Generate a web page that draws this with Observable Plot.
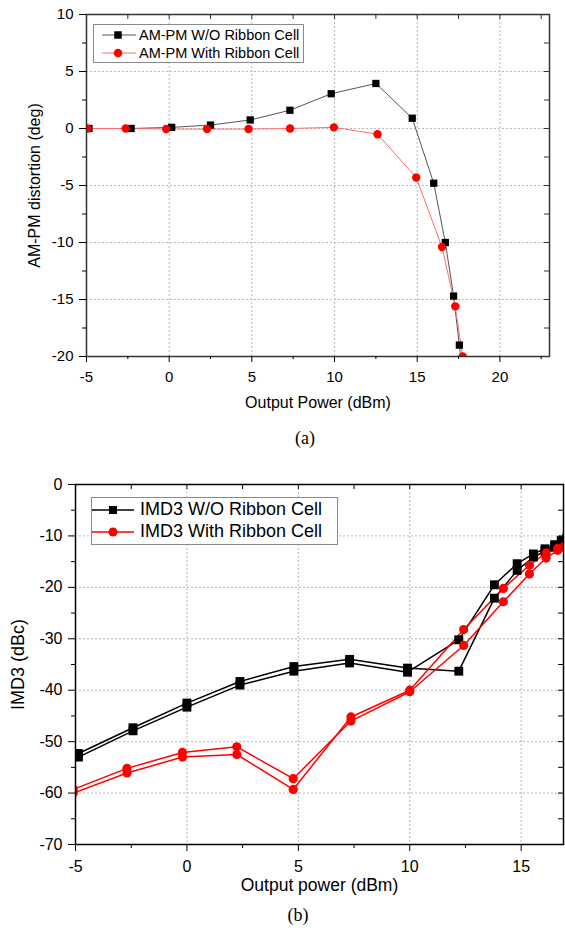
<!DOCTYPE html>
<html>
<head>
<meta charset="utf-8">
<script src="https://cdn.jsdelivr.net/npm/d3@7"></script>
<script src="https://cdn.jsdelivr.net/npm/@observablehq/plot@0.6"></script>
<style>
  body { margin: 0; background: #fff; }
  #wrap { position: relative; width: 565px; height: 934px; background: #fff; font-family: "Liberation Sans", Arial, sans-serif; }
  #wrap svg.plot { position: absolute; left: 0; }
  .legend { position: absolute; background: #fff; border: 1px solid #8a8a8a; box-sizing: border-box; }
  .row { position: absolute; left: 0; display: flex; align-items: center; white-space: nowrap; color: #000; }
  .cap { position: absolute; font-family: "Liberation Serif", "Times New Roman", serif; transform: translate(-50%, -50%); color: #000; }
</style>
</head>
<body>
<div id="wrap"></div>
<script>
// ---------- Chart (a): AM-PM distortion ----------
const amWoX = [-4.85, -2.3, 0.15, 2.5, 4.9, 7.3, 9.8, 12.5, 14.7, 16.0, 16.7, 17.2, 17.55, 17.75];
const amWoY = [0, 0, 0.1, 0.3, 0.75, 1.6, 3.05, 3.95, 0.9, -4.8, -10.0, -14.7, -19.0, -21.5];
const amWithX = [-4.95, -2.63, -0.18, 2.29, 4.8, 7.31, 9.96, 12.6, 14.94, 16.5, 17.3, 17.75];
const amWithY = [0, 0, -0.05, -0.05, -0.05, 0, 0.1, -0.5, -4.3, -10.4, -15.6, -20.0];
const amLabels = ["AM-PM W/O Ribbon Cell", "AM-PM With Ribbon Cell"];
const aXTicks = [-5, 0, 5, 10, 15, 20];
const aXMinor = [-2.5, 2.5, 7.5, 12.5, 17.5, 22.5];
const aYTicks = [-20, -15, -10, -5, 0, 5, 10];
const aYMinor = [-17.5, -12.5, -7.5, -2.5, 2.5, 7.5];

// ---------- Chart (b): IMD3 ----------
const imdWoX = [-4.87, -2.42, 0, 2.38, 4.8, 7.3, 9.9, 12.2, 13.8, 14.82, 15.55, 16.07, 16.5, 16.8, 17.05];
const imdWoY1 = [-52.3, -47.3, -42.5, -38.3, -35.4, -34.0, -35.7, -36.3, -22.1, -16.7, -14.1, -13.0, -12.2, -11.3, -10.7];
const imdWoY2 = [-53.0, -47.9, -43.3, -39.0, -36.3, -34.7, -36.5, -30.2, -19.5, -15.4, -13.5, -12.5, -11.7, -10.9, -10.4];
const imdWithX = [-5.1, -2.69, -0.2, 2.24, 4.77, 7.36, 10.0, 12.42, 14.2, 15.37, 16.12, 16.64, 16.95];
const imdWithY1 = [-59.3, -55.2, -52.1, -51.0, -57.2, -46.0, -40.3, -31.3, -22.8, -17.4, -14.3, -12.8, -12.2];
const imdWithY2 = [-60.0, -56.1, -53.0, -52.5, -59.3, -45.2, -40.0, -28.2, -20.2, -15.7, -13.3, -12.4, -11.9];
const imdLabels = ["IMD3 W/O Ribbon Cell", "IMD3 With Ribbon Cell"];
const bXTicks = [-5, 0, 5, 10, 15];
const bXMinor = [-2.5, 2.5, 7.5, 12.5];
const bYTicks = [-70, -60, -50, -40, -30, -20, -10, 0];
const bYMinor = [-65, -55, -45, -35, -25, -15, -5];

const zip = (xs, ys) => xs.map((x, i) => ({x, y: ys[i]}));
const FONT = "'Liberation Sans', Arial, sans-serif";
const fmt = d => String(d);
const wrap = document.getElementById("wrap");

// ----- Plot (a) -----
{
  const W = 565, H = 420, mt = 14, mb = 64, ml = 86, mr = 16;
  const ph = H - mt - mb, pw = W - ml - mr;
  const xTop = d3.range(-2.5, 23, 2.5);
  const yRight = d3.range(-17.5, 10, 2.5);
  const wo = zip(amWoX, amWoY), wi = zip(amWithX, amWithY);
  const grid = {stroke: "#b8b8b8", strokeWidth: 1, strokeDasharray: "2,2"};
  const svg = Plot.plot({
    width: W, height: H, marginTop: mt, marginBottom: mb, marginLeft: ml, marginRight: mr,
    x: {domain: [-5, 23]}, y: {domain: [-20, 10]},
    style: {fontFamily: FONT, fontSize: "15px", color: "#000", background: "transparent"},
    marks: [
      Plot.ruleX(aXTicks.filter(d => d > -5), grid),
      Plot.ruleY(aYTicks.filter(d => d > -20 && d < 10), grid),
      Plot.line(wo, {x: "x", y: "y", stroke: "#555", strokeWidth: 1, clip: true}),
      Plot.line(wi, {x: "x", y: "y", stroke: "#ff6b6b", strokeWidth: 1, clip: true}),
      Plot.dot(wo, {x: "x", y: "y", symbol: "square", r: 4.1, fill: "#000", clip: true}),
      Plot.dot(wi, {x: "x", y: "y", r: 4.2, fill: "#ff0000", clip: true}),
      Plot.frame({stroke: "#333", strokeWidth: 1.5}),
      Plot.axisX({ticks: aXTicks, tickSize: 6, tickPadding: 9, tickFormat: fmt, label: null, fontSize: 15}),
      Plot.axisX({ticks: aXMinor, tickSize: 3, tickFormat: () => "", label: null}),
      Plot.axisY({ticks: aYTicks, tickSize: 7, tickPadding: 6, tickFormat: fmt, label: null, fontSize: 15}),
      Plot.axisY({ticks: aYMinor, tickSize: 4, tickFormat: () => "", label: null}),
      Plot.tickX(xTop, {x: d => d, insetBottom: ph - 5, stroke: "#333"}),
      Plot.tickY(yRight, {y: d => d, insetLeft: pw - 5, stroke: "#333"}),
      Plot.text(["Output Power (dBm)"], {frameAnchor: "bottom", dy: 51, fontSize: 16}),
      Plot.text(["AM-PM distortion (deg)"], {frameAnchor: "left", textAnchor: "middle", rotate: -90, dx: -52, fontSize: 16})
    ]
  });
  svg.classList.add("plot");
  svg.style.top = "0px";
  wrap.appendChild(svg);
}

// ----- Plot (b) -----
{
  const top = 450;
  const W = 565, H = 484, mt = 34, mb = 90, ml = 75, mr = 2;
  const ph = H - mt - mb, pw = W - ml - mr;
  const xTop = d3.range(-2.5, 16.9, 2.5);
  const yRight = d3.range(-65, 0, 5);
  const wo1 = zip(imdWoX, imdWoY1), wo2 = zip(imdWoX, imdWoY2);
  const wi1 = zip(imdWithX, imdWithY1), wi2 = zip(imdWithX, imdWithY2);
  const grid = {stroke: "#b8b8b8", strokeWidth: 1, strokeDasharray: "2,2"};
  const svg = Plot.plot({
    width: W, height: H, marginTop: mt, marginBottom: mb, marginLeft: ml, marginRight: mr,
    x: {domain: [-5, 16.9]}, y: {domain: [-70, 0]},
    style: {fontFamily: FONT, fontSize: "16px", color: "#000", background: "transparent"},
    marks: [
      Plot.ruleX(bXTicks.filter(d => d > -5), grid),
      Plot.ruleY(bYTicks.filter(d => d > -70 && d < 0), grid),
      Plot.line(wo1, {x: "x", y: "y", stroke: "#000", strokeWidth: 1.5, clip: true}),
      Plot.line(wo2, {x: "x", y: "y", stroke: "#000", strokeWidth: 1.5, clip: true}),
      Plot.line(wi1, {x: "x", y: "y", stroke: "#ff0000", strokeWidth: 1.5, clip: true}),
      Plot.line(wi2, {x: "x", y: "y", stroke: "#ff0000", strokeWidth: 1.5, clip: true}),
      Plot.dot(wo1, {x: "x", y: "y", symbol: "square", r: 5, fill: "#000", clip: true}),
      Plot.dot(wo2, {x: "x", y: "y", symbol: "square", r: 5, fill: "#000", clip: true}),
      Plot.dot(wi1, {x: "x", y: "y", r: 4.6, fill: "#ff0000", clip: true}),
      Plot.dot(wi2, {x: "x", y: "y", r: 4.6, fill: "#ff0000", clip: true}),
      Plot.frame({stroke: "#000", strokeWidth: 1.5}),
      Plot.axisX({ticks: bXTicks, tickSize: 7, tickPadding: 9, tickFormat: fmt, label: null, fontSize: 16}),
      Plot.axisX({ticks: bXMinor, tickSize: 4, tickFormat: () => "", label: null}),
      Plot.axisY({ticks: bYTicks, tickSize: 7, tickPadding: 6, tickFormat: fmt, label: null, fontSize: 16}),
      Plot.axisY({ticks: bYMinor, tickSize: 4, tickFormat: () => "", label: null}),
      Plot.tickX(xTop, {x: d => d, insetBottom: ph - 5, stroke: "#000"}),
      Plot.tickY(yRight, {y: d => d, insetLeft: pw - 5, stroke: "#000"}),
      Plot.text(["Output power (dBm)"], {frameAnchor: "bottom", dy: 46, fontSize: 17.5}),
      Plot.text(["IMD3 (dBc)"], {frameAnchor: "left", textAnchor: "middle", rotate: -90, dx: -57, fontSize: 18})
    ]
  });
  svg.classList.add("plot");
  svg.style.top = top + "px";
  wrap.appendChild(svg);
}

// ----- Legends -----
function legend(box, rows, fontSize, swatchW, lineX0, markerX, textGap) {
  const div = document.createElement("div");
  div.className = "legend";
  Object.assign(div.style, {left: box.left + "px", top: box.top + "px", width: box.w + "px", height: box.h + "px"});
  rows.forEach(r => {
    const row = document.createElement("div");
    row.className = "row";
    row.style.top = (r.cy - box.top - 1 - 10) + "px";
    row.style.height = "20px";
    row.style.fontSize = fontSize + "px";
    const mk = r.square
      ? `<rect x="${markerX - r.size / 2}" y="${10 - r.size / 2}" width="${r.size}" height="${r.size}" fill="${r.fill}"/>`
      : `<circle cx="${markerX}" cy="10" r="${r.size / 2}" fill="${r.fill}"/>`;
    row.innerHTML = `<svg width="${swatchW}" height="20" style="flex:none"><line x1="${lineX0}" x2="${swatchW}" y1="10" y2="10" stroke="${r.stroke}" stroke-width="${r.sw}"/>${mk}</svg><span style="margin-left:${textGap}px">${r.label}</span>`;
    div.appendChild(row);
  });
  wrap.appendChild(div);
}
legend({left: 93, top: 24, w: 211, h: 39}, [
  {cy: 35, label: amLabels[0], square: true, size: 7.5, fill: "#000", stroke: "#555", sw: 1},
  {cy: 52.5, label: amLabels[1], square: false, size: 8.5, fill: "#ff0000", stroke: "#ff6b6b", sw: 1}
], 14.5, 42, 8, 24, 3);
legend({left: 91, top: 497, w: 247, h: 48}, [
  {cy: 509.5, label: imdLabels[0], square: true, size: 8, fill: "#000", stroke: "#000", sw: 1.5},
  {cy: 531.5, label: imdLabels[1], square: false, size: 9, fill: "#ff0000", stroke: "#ff0000", sw: 1.5}
], 18, 42, 0, 21, 6);

// ----- Captions -----
[["(a)", 305, 438], ["(b)", 298, 915]].forEach(([t, x, y]) => {
  const c = document.createElement("div");
  c.className = "cap";
  c.textContent = t;
  Object.assign(c.style, {left: x + "px", top: y + "px", fontSize: "18px"});
  wrap.appendChild(c);
});
</script>
</body>
</html>
